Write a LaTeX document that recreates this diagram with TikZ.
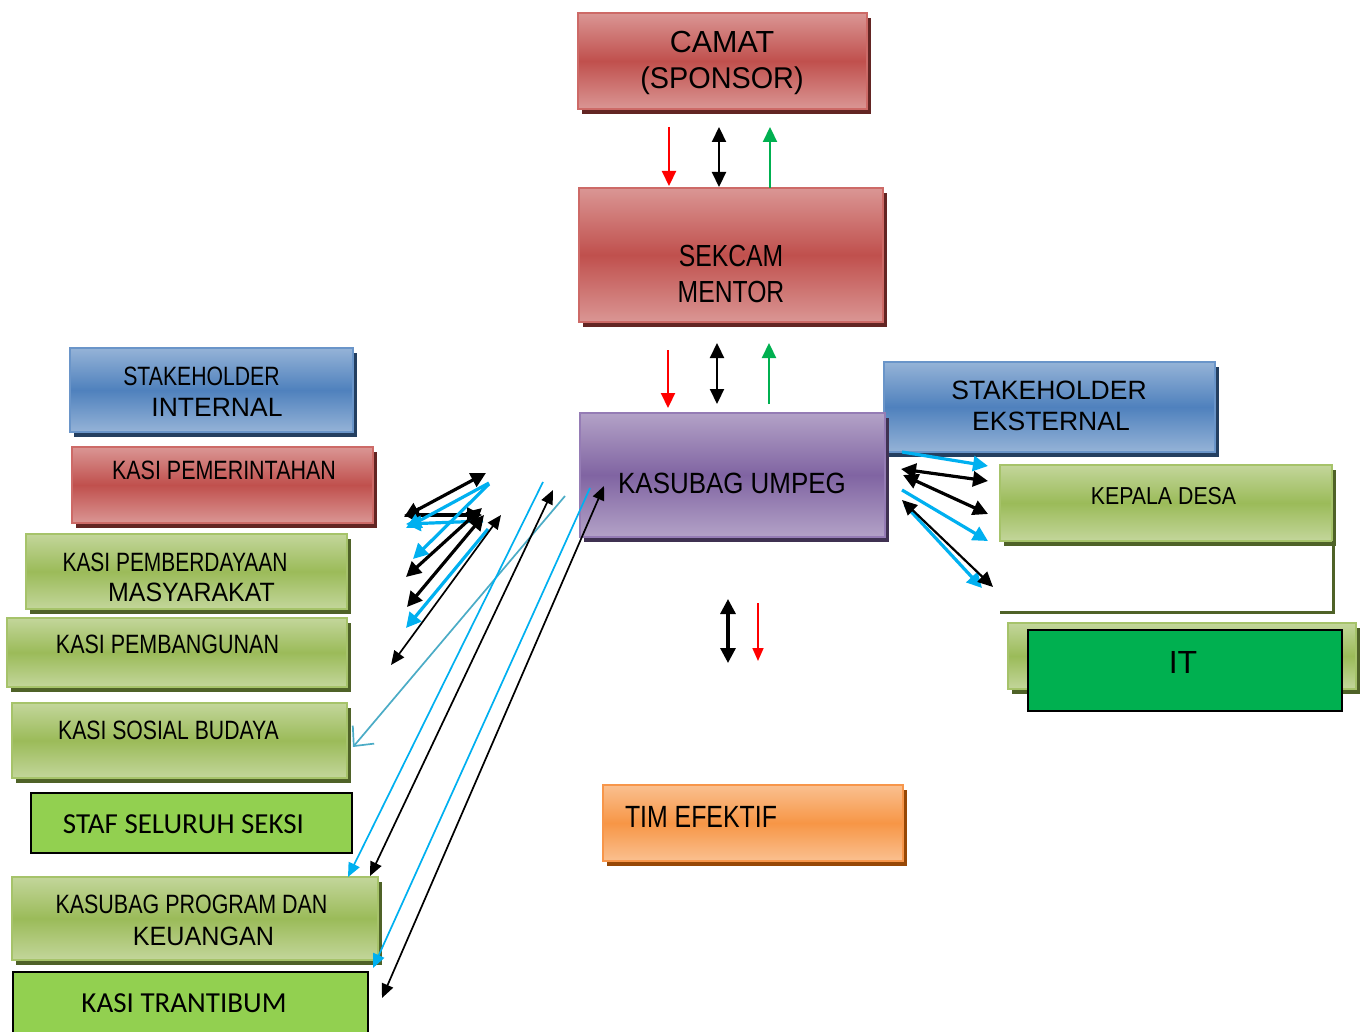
\documentclass[tikz,border=0pt]{standalone}
\usepackage{fontspec}
\setmainfont{Liberation Sans}
\newfontfamily\carl{Carlito}
\usepackage{graphicx}
\usetikzlibrary{arrows.meta}
\definecolor{rL}{HTML}{DA9694}\definecolor{rM}{HTML}{C0504D}\definecolor{rB}{HTML}{CD6A67}\definecolor{rS}{HTML}{632523}
\definecolor{bL}{HTML}{95B3D7}\definecolor{bM}{HTML}{4F81BD}\definecolor{bB}{HTML}{6A95C9}\definecolor{bS}{HTML}{243F60}
\definecolor{pL}{HTML}{B3A2C7}\definecolor{pM}{HTML}{8064A2}\definecolor{pB}{HTML}{957CB5}\definecolor{pS}{HTML}{3F3151}
\definecolor{gL}{HTML}{C3D69B}\definecolor{gM}{HTML}{9BBB59}\definecolor{gB}{HTML}{A6C36A}\definecolor{gS}{HTML}{4F6228}
\definecolor{oL}{HTML}{FAC090}\definecolor{oM}{HTML}{F79646}\definecolor{oB}{HTML}{F7964A}\definecolor{oS}{HTML}{974806}
\definecolor{lime}{HTML}{92D050}\definecolor{itg}{HTML}{00B050}
\definecolor{cyanA}{HTML}{00B0F0}\definecolor{tealA}{HTML}{4BACC6}\definecolor{grnA}{HTML}{00B050}
\newcommand\hsc[2]{\scalebox{#1}[1]{#2}}
\newcommand\fs[1]{\fontsize{#1}{#1}\selectfont}
\newcommand\bx[6]{%
  \fill[#6S] (#2+4,#3+5) rectangle (#4+4,#5+5);
  \node[#6box, anchor=north west, minimum width={(#4-#2)*1pt}, minimum height={(#5-#3)*1pt}] (#1) at (#2,#3) {};}
\tikzset{
  basebox/.style={inner sep=0pt, outer sep=0pt, line width=2.2pt, rectangle},
  redbox/.style={basebox, draw=rB, top color=rL, bottom color=rL, middle color=rM},
  bluebox/.style={basebox, draw=bB, top color=bL, bottom color=bL, middle color=bM},
  purbox/.style={basebox, draw=pB, top color=pL, bottom color=pL, middle color=pM},
  grnbox/.style={basebox, draw=gB, top color=gL, bottom color=gL, middle color=gM},
  orgbox/.style={basebox, draw=oB, top color=oL, bottom color=oL, middle color=oM},
  redS/.style={fill=rS}, blueS/.style={fill=bS}, purS/.style={fill=pS}, grnS/.style={fill=gS}, orgS/.style={fill=oS},
  flatbox/.style={inner sep=0pt, outer sep=0pt, line width=2pt, draw=black, rectangle},
  tx/.style={anchor=base, inner sep=0pt, outer sep=0pt, text=black},
  thk/.style={line width=3.2pt, >={Triangle[length=15pt,width=15pt]}},
  mid/.style={line width=2.2pt, >={Triangle[length=15pt,width=14pt]}},
  thn/.style={line width=1.7pt, >={Triangle[length=14pt,width=12pt]}},
}
\begin{document}
\begin{tikzpicture}[x=1pt,y=-1pt]
\useasboundingbox (0,0) rectangle (1360,1032);
\fill[white] (0,0) rectangle (1360,1032);

% ---- boxes ----
\bx{camat}{578}{13}{867}{109}{red}
\bx{sekcam}{579}{188}{883}{322}{red}
\bx{sheks}{884}{362}{1215}{452}{blue}
\bx{umpeg}{580}{413}{885}{537}{pur}
\bx{shint}{70}{348}{353}{432}{blue}
\bx{pem}{72}{447}{373}{523}{red}
\bx{pmd}{26}{534}{347}{609}{grn}
\bx{pbg}{7}{618}{347}{687}{grn}
\bx{sos}{12}{703}{347}{778}{grn}
\node[flatbox, fill=lime, anchor=north west, minimum width=321pt, minimum height=60pt] (staf) at (31,793) {};
\bx{prog}{12}{877}{378}{960}{grn}
\node[flatbox, fill=lime, anchor=north west, minimum width=355pt, minimum height=70pt] (trant) at (13,972) {};
\bx{kades}{1000}{465}{1332}{541}{grn}
\draw[gS, line width=3pt] (1000,612) -- (1333,612) -- (1333,541);
\bx{itback}{1008}{623}{1356}{689}{grn}
\node[flatbox, fill=itg, anchor=north west, minimum width=314pt, minimum height=81pt] (it) at (1028,630) {};
\bx{tim}{603}{785}{903}{861}{org}

% ---- texts ----
\node[tx] (tcamat) at (722,53) {\fs{30.5}CAMAT};
\node[tx] (tspon) at (722,89) {\fs{30}\hsc{0.96}{(SPONSOR)}};
\node[tx] (tsek) at (731,267) {\fs{30.5}\hsc{0.81}{SEKCAM}};
\node[tx] (tmen) at (731,302) {\fs{30.5}\hsc{0.81}{MENTOR}};
\node[tx] (tump) at (732,493) {\fs{29.3}\hsc{0.885}{KASUBAG UMPEG}};
\node[tx] (tshe1) at (1049,399) {\fs{26.5}STAKEHOLDER};
\node[tx] (tshe2) at (1051,430) {\fs{26.5}EKSTERNAL};
\node[tx] (tshi1) at (201.5,385) {\fs{26.5}\hsc{0.8}{STAKEHOLDER}};
\node[tx] (tshi2) at (217,416) {\fs{26.5}INTERNAL};
\node[tx] (tpem) at (224,479) {\fs{26.5}\hsc{0.81}{KASI PEMERINTAHAN}};
\node[tx] (tpmd1) at (175,571) {\fs{26.5}\hsc{0.79}{KASI PEMBERDAYAAN}};
\node[tx] (tpmd2) at (191.5,601) {\fs{26.5}\hsc{0.94}{MASYARAKAT}};
\node[tx] (tpbg) at (167.5,653) {\fs{26.5}\hsc{0.81}{KASI PEMBANGUNAN}};
\node[tx] (tsos) at (168.5,739) {\fs{26.5}\hsc{0.8}{KASI SOSIAL BUDAYA}};
\node[tx] (tstaf) at (183.5,833) {\carl\fs{29}STAF SELURUH SEKSI};
\node[tx] (tprog1) at (191.5,913) {\fs{26.5}\hsc{0.81}{KASUBAG PROGRAM DAN}};
\node[tx] (tprog2) at (203.5,945) {\fs{26.5}\hsc{0.95}{KEUANGAN}};
\node[tx] (ttrant) at (184,1012) {\carl\fs{29}KASI TRANTIBUM};
\node[tx] (tkades) at (1163.5,504) {\fs{24.5}\hsc{0.87}{KEPALA DESA}};
\node[tx] (tit) at (1183,673) {\fs{32}IT};
\node[tx, anchor=base west] (ttim) at (625,827) {\fs{30.7}\hsc{0.81}{TIM EFEKTIF}};

% ---- coordinates ----
\coordinate (a1s) at (669,127); \coordinate (a1e) at (669,186);
\coordinate (a2s) at (719,127); \coordinate (a2e) at (719,187);
\coordinate (a3s) at (770,188); \coordinate (a3e) at (770,127);
\coordinate (b1s) at (668,350); \coordinate (b1e) at (668,408);
\coordinate (b2s) at (717,343); \coordinate (b2e) at (717,404);
\coordinate (b3s) at (769,404); \coordinate (b3e) at (769,343);
\coordinate (m1s) at (728,599); \coordinate (m1e) at (728,663);
\coordinate (m2s) at (758,603); \coordinate (m2e) at (758,661);
% left cluster
\coordinate (l1s) at (404,517); \coordinate (l1e) at (486,473);
\coordinate (l2s) at (404,515); \coordinate (l2e) at (482,515);
\coordinate (l3s) at (489,483); \coordinate (l3e) at (406,528);
\coordinate (l3bs) at (483,521); \coordinate (l3be) at (406,524);
\coordinate (l4s) at (489,484); \coordinate (l4e) at (413,559);
\coordinate (l5s) at (406,577); \coordinate (l5e) at (482,508);
\coordinate (l6s) at (407,607); \coordinate (l6e) at (484,515);
\coordinate (l7s) at (488,529); \coordinate (l7e) at (406,628);
\coordinate (l8s) at (391,665); \coordinate (l8e) at (501,515);
\coordinate (l9s) at (565,496); \coordinate (l9e) at (353,747);
\coordinate (l10s) at (543,482); \coordinate (l10e) at (348,877);
\coordinate (l11s) at (553,490); \coordinate (l11e) at (370,876);
\coordinate (l12s) at (590,488); \coordinate (l12e) at (373,968);
\coordinate (l13s) at (604,486); \coordinate (l13e) at (382,998);
% right cluster
\coordinate (r1s) at (902,452); \coordinate (r1e) at (988,466);
\coordinate (r2s) at (901,469); \coordinate (r2e) at (988,481);
\coordinate (r3s) at (903,475); \coordinate (r3e) at (988,514);
\coordinate (r4s) at (902,490); \coordinate (r4e) at (988,541);
\coordinate (r5s) at (905,505); \coordinate (r5e) at (982,588);
\coordinate (r6s) at (902,500); \coordinate (r6e) at (993,587);

% ---- arrows ----
\draw[mid, red, ->] (a1s) -- (a1e);
\draw[mid, black, <->] (a2s) -- (a2e);
\draw[mid, grnA, ->] (a3s) -- (a3e);
\draw[mid, red, ->] (b1s) -- (b1e);
\draw[mid, black, <->] (b2s) -- (b2e);
\draw[mid, grnA, ->] (b3s) -- (b3e);
\draw[thk, black, <->] (m1s) -- (m1e);
\draw[thn, red, ->, >={Triangle[length=13pt,width=11pt]}] (m2s) -- (m2e);

\draw[thk, black, <->] (l1s) -- (l1e);
\draw[thk, black, <->] (l2s) -- (l2e);
\draw[thk, cyanA, ->] (l3s) -- (l3e);
\draw[thk, cyanA, ->] (l3bs) -- (l3be);
\draw[thk, cyanA, ->] (l4s) -- (l4e);
\draw[thk, black, <->] (l5s) -- (l5e);
\draw[thk, black, <->] (l6s) -- (l6e);
\draw[thk, cyanA, ->] (l7s) -- (l7e);
\draw[thn, black, <->] (l8s) -- (l8e);
\draw[line width=1.7pt, tealA, -{Straight Barb[length=15pt,width=28pt]}] (l9s) -- (l9e);
\draw[thn, cyanA, ->] (l10s) -- (l10e);
\draw[thn, black, <->] (l11s) -- (l11e);
\draw[thn, cyanA, ->] (l12s) -- (l12e);
\draw[thn, black, <->] (l13s) -- (l13e);

\draw[thk, cyanA, ->] (r1s) -- (r1e);
\draw[thk, black, <->] (r2s) -- (r2e);
\draw[thk, black, <->] (r3s) -- (r3e);
\draw[thk, cyanA, ->] (r4s) -- (r4e);
\draw[thk, cyanA, ->] (r5s) -- (r5e);
\draw[mid, black, <->] (r6s) -- (r6e);
\end{tikzpicture}
\end{document}
